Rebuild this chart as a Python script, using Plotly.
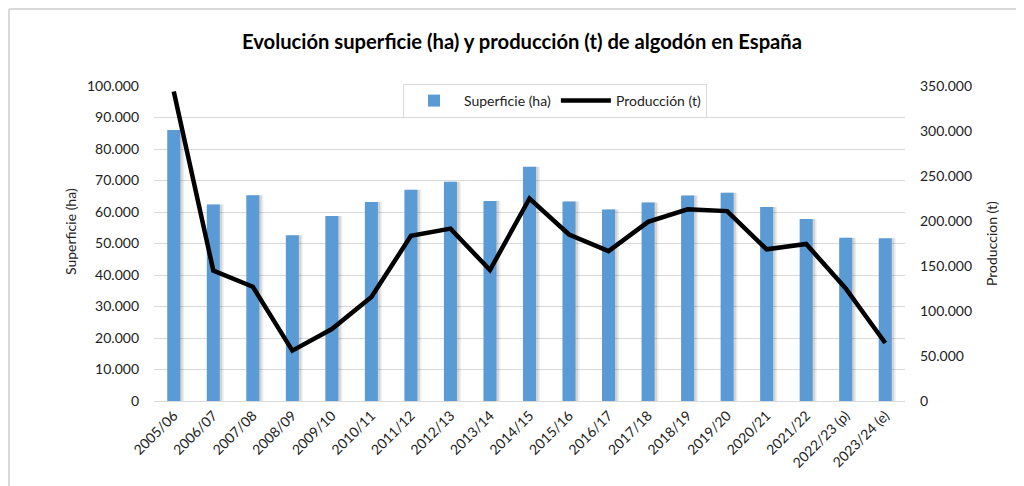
import plotly.graph_objects as go

campaigns = ["2005/06", "2006/07", "2007/08", "2008/09", "2009/10", "2010/11", "2011/12",
             "2012/13", "2013/14", "2014/15", "2015/16", "2016/17", "2017/18", "2018/19",
             "2019/20", "2020/21", "2021/22", "2022/23 (p)", "2023/24 (e)"]
superficie_ha = [86000, 62400, 65300, 52600, 58700, 63200, 67100, 69600, 63500, 74400,
                 63300, 60800, 63000, 65200, 66100, 61600, 57800, 51800, 51700]
produccion_t = [344000, 145000, 127000, 56000, 80000, 115500, 183500, 191500, 145500, 225000,
                185000, 166500, 199000, 213000, 211000, 168500, 174500, 125000, 64500]
left_ticks = list(range(0, 100001, 10000))
right_ticks = list(range(0, 350001, 50000))

FONT = "Lato"
BLUE = "#5B9BD5"
BW = 0.33

fig = go.Figure()
# soft shadow behind the bars
for dx, a in [(0.10, 0.07), (0.06, 0.10)]:
    fig.add_trace(go.Bar(x=campaigns, y=superficie_ha, marker=dict(color=f"rgba(0,0,0,{a})",
                         line=dict(width=0)), width=BW, offset=-BW / 2 + dx, showlegend=False,
                         hoverinfo="skip", yaxis="y"))
fig.add_trace(go.Bar(x=campaigns, y=superficie_ha, name="Superficie (ha)",
                     marker=dict(color=BLUE, line=dict(width=0)), yaxis="y",
                     width=BW, offset=-BW / 2))
fig.add_trace(go.Scatter(x=campaigns, y=produccion_t, name="Producción (t)", mode="lines",
                         line=dict(color="black", width=4.5), yaxis="y2"))

OFF = 8  # page body margin
W, H = 1024 - OFF, 486 - OFF
L, T = 154 - OFF, 86 - OFF
R = W - (905 - OFF)
B = H - (401 - OFF)
pw, ph = W - L - R, H - T - B

def px(x):
    return (x - OFF - L) / pw

def py(y):
    return (H - B - (y - OFF)) / ph

fig.update_layout(
    width=W, height=H,
    margin=dict(l=L, r=R, t=T, b=B, autoexpand=False),
    paper_bgcolor="white", plot_bgcolor="white",
    separators=",.",
    barmode="overlay",
    font=dict(family=FONT, size=14, color="#222"),
    title=dict(text="<b>Evolución superficie (ha) y producción (t) de algodón en España</b>",
               x=px(522), xanchor="center", xref="paper", y=1 - (42 - OFF) / H, yanchor="middle",
               font=dict(family=FONT, size=20.2, color="black")),
    showlegend=True,
    legend=dict(orientation="h", x=px(403), y=py(84), xanchor="left", yanchor="top",
                bgcolor="white", bordercolor="#d9d9d9", borderwidth=1,
                font=dict(family=FONT, size=14, color="#222"), traceorder="normal",
                itemwidth=50),
    xaxis=dict(type="category", tickangle=-45, showgrid=False, showline=True,
               linecolor="#d9d9d9", linewidth=1, ticks="", tickfont=dict(size=14),
               range=[-0.5, len(campaigns) - 0.5], automargin=False),
    yaxis=dict(range=[0, 100000], tickvals=left_ticks, tickformat=",d", showgrid=True,
               gridcolor="#d9d9d9", gridwidth=1, zeroline=False, showline=False,
               ticks="", ticklabelstandoff=14, tickfont=dict(size=14), automargin=False),
    yaxis2=dict(range=[0, 350000], tickvals=right_ticks, tickformat=",d", overlaying="y",
                side="right", showgrid=False, zeroline=False, showline=False, ticks="",
                ticklabelstandoff=14, tickfont=dict(size=14), automargin=False),
)

fig.add_annotation(text="Superficie (ha)", xref="paper", yref="paper", x=px(70), y=py(232),
                   xanchor="center", yanchor="middle",
                   showarrow=False, textangle=-90, font=dict(size=14, color="#222"))
fig.add_annotation(text="Produccion (t)", xref="paper", yref="paper", x=px(991), y=py(244),
                   xanchor="center", yanchor="middle",
                   showarrow=False, textangle=-90, font=dict(size=14, color="#222"))

# outer chart frame (at the very edge of the figure)
fig.add_shape(type="line", xref="paper", yref="paper", x0=px(9), x1=px(9), y0=py(9), y1=py(500),
              line=dict(color="#d9d9d9", width=2), layer="below")
fig.add_shape(type="line", xref="paper", yref="paper", x0=px(9), x1=px(1040), y0=py(9), y1=py(9),
              line=dict(color="#d9d9d9", width=2), layer="below")

fig.write_html("out.html")
